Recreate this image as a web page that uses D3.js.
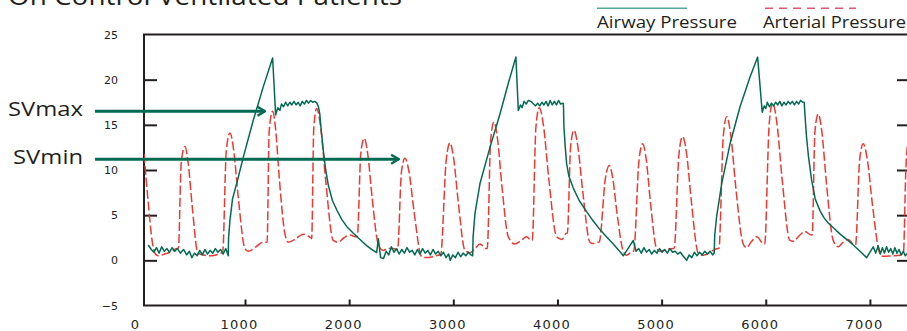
<!DOCTYPE html>
<html>
<head>
<meta charset="utf-8">
<script src="https://cdn.jsdelivr.net/npm/d3@7"></script>
<style>
  body { margin: 0; background: #fff; }
  svg { display: block; }
</style>
</head>
<body>
<div id="chart"></div>
<script>
// values (x in samples, y in mmHg / cmH2O)
const xTicks = [0, 1000, 2000, 3000, 4000, 5000, 6000, 7000];
const yTicks = [-5, 0, 5, 10, 15, 20, 25];
const xExtent = [30, 7385];
const yExtent = [-5, 25];

const seriesNames = ["Airway Pressure", "Arterial Pressure"];

const airwayPressure = [
  [71,1.7],[100,1.2],[125,0.9],[150,1.4],[175,0.8],[200,1.5],[225,1.0],[250,1.3],[275,0.9],[300,1.4],
  [325,1.0],[350,1.3],[380,0.8],[410,1.2],[440,0.6],[465,1.0],[490,0.3],[515,0.8],[540,0.5],[565,1.1],
  [590,0.6],[615,1.2],[640,0.7],[665,1.1],[690,0.8],[715,1.3],[740,0.9],[765,1.2],[790,0.7],[815,1.3],
  [839,0.5],[842,2.5],[855,4.4],[880,6.8],[920,8.5],[983,11.4],[1079,15.5],[1175,19.2],[1265,22.4],
  [1294,16.1],[1315,16.9],[1335,16.6],[1350,17.3],[1370,17.0],[1390,17.5],[1410,17.1],[1430,17.5],[1450,17.2],
  [1470,17.6],[1490,17.2],[1510,17.5],[1530,17.1],[1550,17.6],[1570,17.3],[1590,17.7],[1610,17.4],[1630,17.7],
  [1650,17.5],[1670,17.6],[1690,17.4],
  [1705,17.0],[1718,16.2],[1735,14.0],[1751,12.2],[1775,10.0],[1800,8.3],[1840,6.6],[1880,5.6],[1930,4.5],
  [1980,3.7],[2040,3.0],[2104,2.3],[2170,1.6],[2230,1.1],[2264,0.85],[2280,2.4],[2302,0.3],
  [2330,0.2],[2355,1.0],[2380,0.6],[2405,1.5],[2430,0.9],[2455,1.3],[2480,0.7],[2505,1.2],[2530,0.8],
  [2555,1.4],[2580,0.9],[2605,1.1],[2630,0.6],[2655,1.2],[2680,0.7],[2705,1.3],[2730,0.8],[2755,1.1],
  [2780,0.6],[2805,1.2],[2830,0.7],[2855,1.0],[2880,0.5],[2905,0.9],[2930,0.3],[2955,0.7],[2970,0.0],
  [2995,0.6],[3020,0.3],[3045,0.9],[3070,0.4],[3095,0.8],[3120,0.5],[3145,0.9],[3170,0.6],[3186,0.5],
  [3190,2.6],[3208,5.2],[3256,8.5],[3352,12.5],[3448,16.2],[3528,19.6],[3601,22.5],
  [3624,16.6],[3645,17.2],[3660,16.9],[3680,17.6],[3700,17.3],[3720,17.7],[3745,17.6],[3770,17.3],[3790,17.1],
  [3810,17.4],[3830,17.1],[3850,17.5],[3870,17.2],[3890,17.6],[3910,17.1],[3930,17.7],[3950,17.2],[3970,17.6],
  [3990,17.2],[4010,17.7],[4030,17.3],[4055,17.4],
  [4058,17.0],[4062,14.8],[4075,12.5],[4088,10.7],[4110,9.3],[4152,8.0],[4210,6.6],[4280,5.4],[4340,4.4],
  [4408,3.4],[4470,2.6],[4536,1.8],[4590,1.1],[4632,0.5],[4728,2.2],[4755,1.0],
  [4780,1.3],[4805,0.8],[4830,1.4],[4855,0.9],[4880,1.2],[4905,0.7],[4930,1.1],[4955,0.8],[4980,1.3],
  [5005,0.9],[5030,1.2],[5055,0.8],[5080,1.3],[5105,0.9],[5130,1.0],[5155,0.7],[5180,0.9],[5205,0.5],
  [5240,0.0],[5265,0.6],[5290,0.3],[5315,0.9],[5340,0.5],[5365,0.9],[5390,0.6],[5415,1.0],[5440,0.7],
  [5465,1.0],[5490,0.6],[5505,0.8],
  [5510,2.8],[5528,4.8],[5577,8.5],[5657,12.9],[5753,17.0],[5849,20.3],[5922,22.5],
  [5966,16.4],[5985,17.1],[6000,16.8],[6015,17.5],[6035,17.0],[6055,17.4],[6075,17.1],[6095,17.5],[6115,17.2],
  [6135,17.6],[6155,17.1],[6175,17.5],[6195,17.2],[6215,17.6],[6235,17.3],[6255,17.6],[6275,17.2],[6295,17.6],
  [6315,17.3],[6335,17.7],[6355,17.5],[6369,17.5],
  [6380,15.5],[6392,13.6],[6410,11.5],[6440,8.9],[6475,6.8],[6520,5.5],[6560,4.7],[6602,4.1],[6660,3.5],
  [6714,2.9],[6780,2.3],[6840,1.7],[6905,1.0],[6969,0.3],[7032,1.5],
  [7055,0.8],[7080,1.6],[7100,0.7],[7120,1.4],[7140,0.8],[7160,1.5],[7180,0.9],[7200,1.3],[7220,0.7],
  [7240,1.4],[7260,0.8],[7280,1.2],[7300,0.6],[7320,1.0],[7340,0.5],[7360,0.8],[7390,0.5]
];

const arterialPressure = [
  [30,11.8],[70,6.5],[110,2.0],[140,0.7],[165,0.5],[231,0.7],[300,1.0],[344,1.3],
  [360,1.3],[388,10.9],[423,12.6],[454,10.8],[492,6.1],[548,0.8],
  [600,0.6],[663,0.5],[720,0.6],[772,0.8],
  [785,0.8],[820,12.1],[855,14.1],[891,12.2],[934,7.1],[999,1.3],
  [1031,1.0],[1105,1.5],[1175,2.0],[1198,2.0],
  [1212,2.0],[1232,14.3],[1265,16.5],[1294,14.5],[1329,9.1],[1382,3.0],
  [1415,2.0],[1489,2.4],[1559,2.9],[1630,2.5],
  [1640,2.4],[1660,14.6],[1688,16.8],[1728,14.6],[1775,8.8],[1847,2.2],
  [1895,2.0],[1950,2.5],[2008,2.8],[2068,2.6],
  [2078,2.6],[2112,11.9],[2145,13.5],[2179,11.7],[2219,7.1],[2279,1.8],
  [2327,1.1],[2372,1.3],[2423,1.3],[2455,1.2],
  [2465,1.2],[2502,9.8],[2536,11.3],[2576,9.7],[2624,5.3],[2696,0.4],
  [2728,0.3],[2805,0.4],[2868,0.6],
  [2878,0.6],[2932,11.1],[2968,13.0],[3004,11.2],[3047,6.5],[3112,1.1],
  [3160,0.85],[3208,1.3],[3256,1.8],[3316,1.3],
  [3326,1.3],[3358,13.2],[3390,15.3],[3425,13.4],[3466,8.3],[3528,2.6],
  [3592,1.8],[3650,2.2],[3704,2.6],[3750,2.2],
  [3758,2.2],[3793,14.7],[3825,16.9],[3867,14.8],[3917,9.0],[3992,2.6],
  [4040,2.3],[4088,3.0],
  [4095,3.0],[4127,12.7],[4159,14.4],[4197,12.5],[4243,7.6],[4312,2.0],
  [4341,1.85],[4392,2.0],
  [4400,2.0],[4462,9.2],[4497,10.5],[4531,9.1],[4571,5.3],[4632,1.0],
  [4664,0.55],[4722,1.0],
  [4732,1.0],[4783,11.1],[4818,12.9],[4852,11.2],[4892,6.5],[4952,1.3],
  [4984,1.0],[5051,1.2],[5112,1.3],
  [5120,1.3],[5167,11.8],[5202,13.7],[5240,11.8],[5285,6.6],[5352,0.8],
  [5400,0.55],[5496,1.1],[5541,1.3],
  [5550,1.3],[5592,13.7],[5625,15.9],[5665,13.8],[5712,8.1],[5784,1.8],
  [5816,1.4],[5858,2.0],[5913,2.6],[5983,1.8],
  [5990,1.8],[6033,15.1],[6066,17.4],[6108,15.1],[6157,9.0],[6232,2.2],
  [6264,2.1],[6328,2.8],[6376,3.2],[6438,2.8],
  [6446,2.8],[6472,14.2],[6504,16.2],[6540,14.1],[6583,8.5],[6648,2.2],
  [6696,1.5],[6741,2.0],[6792,2.3],[6852,1.7],
  [6862,1.7],[6902,11.2],[6936,12.9],[6976,11.1],[7024,6.2],[7096,0.75],
  [7128,0.45],[7212,0.5],[7288,0.55],[7310,0.7],
  [7322,0.8],[7345,10.0],[7375,14.0],[7400,15.0]
];

// SV annotations: arrow height and where it starts / ends on the x scale
const annotations = [
  { label: "SVmax", value: 16.5, from: -440, to: 1211 },
  { label: "SVmin", value: 11.2, from: -440, to: 2494 }
];

const green = "#046a52", red = "#ea3a33", ink = "#231f20";

var width = 907, height = 331;

var svg = d3.select("#chart")
    .append("svg")
    .attr("width", width)
    .attr("height", height);

var x = d3.scaleLinear().domain(xExtent).range([144, 910]);
var y = d3.scaleLinear().domain(yExtent).range([305.5, 34.5]);

// title (cut off at the top of the picture)
svg.append("text")
    .attr("x", 8)
    .attr("y", 4.7)
    .attr("textLength", 394)
    .attr("lengthAdjust", "spacingAndGlyphs")
    .style("font-family", "'Open Sans', sans-serif")
    .style("font-size", "26px")
    .style("fill", ink)
    .text("On Control Ventilated Patients");

svg.append("defs").append("clipPath")
    .attr("id", "plot-clip")
    .append("rect")
    .attr("x", x(xExtent[0]))
    .attr("y", y(yExtent[1]))
    .attr("width", x(xExtent[1]) - x(xExtent[0]))
    .attr("height", y(yExtent[0]) - y(yExtent[1]));

svg.select("defs").append("marker")
    .attr("id", "arrow")
    .attr("viewBox", "0 -6 10 12")
    .attr("refX", 8.5)
    .attr("refY", 0)
    .attr("markerUnits", "userSpaceOnUse")
    .attr("markerWidth", 10)
    .attr("markerHeight", 12)
    .attr("orient", "auto")
    .append("path")
    .attr("d", "M1,-4.5L8.5,0L1,4.5")
    .attr("fill", "none")
    .attr("stroke", green)
    .attr("stroke-width", 2.4);

// axes: ticks point inwards
var yAxisL = svg.append("g")
    .attr("transform", "translate(" + x(xExtent[0]) + ",0)")
    .call(d3.axisLeft(y).tickValues(yTicks).tickSize(-13).tickPadding(26));
var yAxisR = svg.append("g")
    .attr("transform", "translate(" + x(xExtent[1]) + ",0)")
    .call(d3.axisRight(y).tickValues(yTicks.slice(1, -1)).tickSize(-13).tickFormat(""));
var xAxis = svg.append("g")
    .attr("transform", "translate(0," + y(yExtent[0]) + ")")
    .call(d3.axisBottom(x).tickValues(xTicks).tickFormat(d3.format("d")).tickSize(-6).tickPadding(14.3));

[yAxisL, yAxisR, xAxis].forEach(g => {
    g.select(".domain").remove();
    g.selectAll("line").attr("stroke", ink).attr("stroke-width", 2);
});
yAxisL.selectAll(".tick")
    .filter(d => d === yExtent[0] || d === yExtent[1])
    .select("line").remove();
yAxisL.selectAll("text")
    .attr("fill", ink)
    .style("font-family", "'DejaVu Sans', sans-serif")
    .style("font-size", "11px");
xAxis.selectAll(".tick").filter(d => d === 0).select("line").remove();
xAxis.selectAll("text")
    .attr("fill", ink)
    .attr("dx", -6)
    .style("font-family", "'DejaVu Sans', sans-serif")
    .style("font-size", "13px")
    .style("letter-spacing", "1.2px");

// plot frame
svg.append("rect")
    .attr("x", x(xExtent[0]))
    .attr("y", y(yExtent[1]))
    .attr("width", x(xExtent[1]) - x(xExtent[0]))
    .attr("height", y(yExtent[0]) - y(yExtent[1]))
    .attr("fill", "none")
    .attr("stroke", ink)
    .attr("stroke-width", 2);

var plot = svg.append("g").attr("clip-path", "url(#plot-clip)");

const arterialLine = d3.line()
    .x(d => x(d[0]))
    .y(d => y(d[1]))
    .curve(d3.curveMonotoneX);

const airwayLine = d3.line()
    .x(d => x(d[0]))
    .y(d => y(d[1]));

plot.append("path")
    .datum(arterialPressure)
    .attr("fill", "none")
    .attr("stroke", red)
    .attr("stroke-width", 1.5)
    .attr("stroke-dasharray", "9,3")
    .attr("d", arterialLine);

plot.append("path")
    .datum(airwayPressure)
    .attr("fill", "none")
    .attr("stroke", green)
    .attr("stroke-width", 1.5)
    .attr("stroke-linejoin", "round")
    .attr("d", airwayLine);

// SVmax / SVmin arrows
var notes = svg.selectAll(".note")
    .data(annotations)
    .enter().append("g")
    .attr("class", "note");

notes.append("line")
    .attr("x1", d => x(d.from))
    .attr("x2", d => x(d.to) - 2)
    .attr("y1", d => y(d.value))
    .attr("y2", d => y(d.value))
    .attr("stroke", green)
    .attr("stroke-width", 3)
    .attr("marker-end", "url(#arrow)");

notes.append("text")
    .attr("x", d => x(d.from) - 12)
    .attr("y", d => y(d.value) + 4.5)
    .attr("text-anchor", "end")
    .attr("textLength", d => d.label === "SVmax" ? 75 : 70)
    .attr("lengthAdjust", "spacingAndGlyphs")
    .style("font-family", "'Open Sans', sans-serif")
    .style("font-size", "20px")
    .style("fill", ink)
    .text(d => d.label);

// legend above the frame
var legend = svg.append("g");
var legendItems = [
    { name: seriesNames[0], x: 597, len: 90, text: 140, color: "#55a998", dash: null },
    { name: seriesNames[1], x: 763, len: 93, text: 143, color: "#e0566f", dash: "8,6" }
];
legendItems.forEach(item => {
    legend.append("line")
        .attr("x1", item.x + (item.dash ? 2 : 0))
        .attr("x2", item.x + item.len)
        .attr("y1", 8.3)
        .attr("y2", 8.3)
        .attr("stroke", item.color)
        .attr("stroke-width", 1.6)
        .attr("stroke-dasharray", item.dash);
    legend.append("text")
        .attr("x", item.x)
        .attr("y", 28.3)
        .attr("textLength", item.text)
        .attr("lengthAdjust", "spacingAndGlyphs")
        .style("font-family", "'Open Sans', sans-serif")
        .style("font-size", "15.5px")
        .style("fill", ink)
        .text(item.name);
});
</script>
</body>
</html>
